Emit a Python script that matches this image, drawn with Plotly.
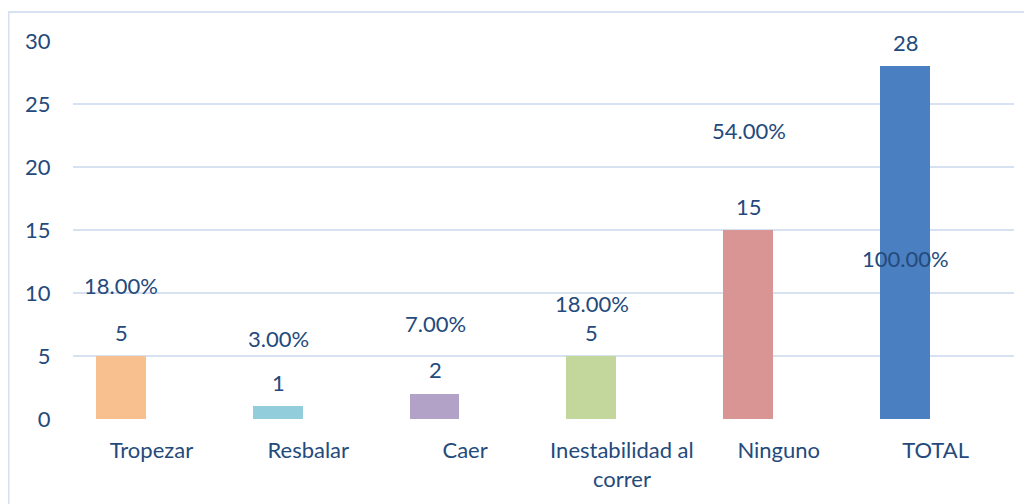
import plotly.graph_objects as go

categories = ["Tropezar", "Resbalar", "Caer", "Inestabilidad al<br>correr", "Ninguno", "TOTAL"]
counts = [5, 1, 2, 5, 15, 28]
percents = [0.18, 0.03, 0.07, 0.18, 0.54, 1.00]
y_ticks = [0, 5, 10, 15, 20, 25, 30]

# label layout (data units on the count axis), as placed in the original
pct_label_y = [10.6, 6.4, 7.6, 9.2, 22.9, 12.7]
bar_colors = ["#F9C08F", "#92CDDC", "#B2A2C7", "#C3D69B", "#D99594", "#4A7FC1"]

TEXT = "#244A7C"
GRID = "#D6E1F1"
FONT = "Lato"
FS = 22

fig = go.Figure()
fig.add_trace(go.Bar(
    x=categories, y=counts,
    marker=dict(color=bar_colors, line=dict(width=0)),
    width=0.318, offset=-0.354,
    hoverinfo="x+y", showlegend=False,
))

ann = []
for c, v in zip(categories, counts):
    ann.append(dict(x=c, y=v, xref="x", yref="y", text=str(v), showarrow=False,
                    xshift=-30, yshift=24, yanchor="middle",
                    font=dict(family=FONT, size=FS, color=TEXT)))
for c, p, py in zip(categories, percents, pct_label_y):
    ann.append(dict(x=c, y=py, xref="x", yref="y", text=f"{p*100:.2f}%", showarrow=False,
                    xshift=-30, yanchor="middle",
                    font=dict(family=FONT, size=FS, color=TEXT)))

fig.update_layout(
    width=1024, height=496,
    margin=dict(l=65, r=18, t=33, b=85),
    paper_bgcolor="white", plot_bgcolor="white",
    font=dict(family=FONT, size=FS, color=TEXT),
    bargap=0, annotations=ann,
    xaxis=dict(showgrid=False, zeroline=False, showline=False,
               ticks="outside", ticklen=12, tickcolor="rgba(0,0,0,0)",
               tickfont=dict(family=FONT, size=FS, color=TEXT)),
    yaxis=dict(range=[0, 30], tickvals=y_ticks, showgrid=True, gridcolor=GRID, gridwidth=2,
               zeroline=False, showline=False,
               ticks="outside", ticklen=17, tickcolor="rgba(0,0,0,0)",
               tickfont=dict(family=FONT, size=FS, color=TEXT)),
    shapes=[dict(type="rect", xref="paper", yref="paper",
                 x0=-0.0685, x1=1.2, y0=-0.4, y1=1.0767,
                 line=dict(color=GRID, width=2), fillcolor="rgba(0,0,0,0)", layer="below")],
)

fig.write_html("out.html")
